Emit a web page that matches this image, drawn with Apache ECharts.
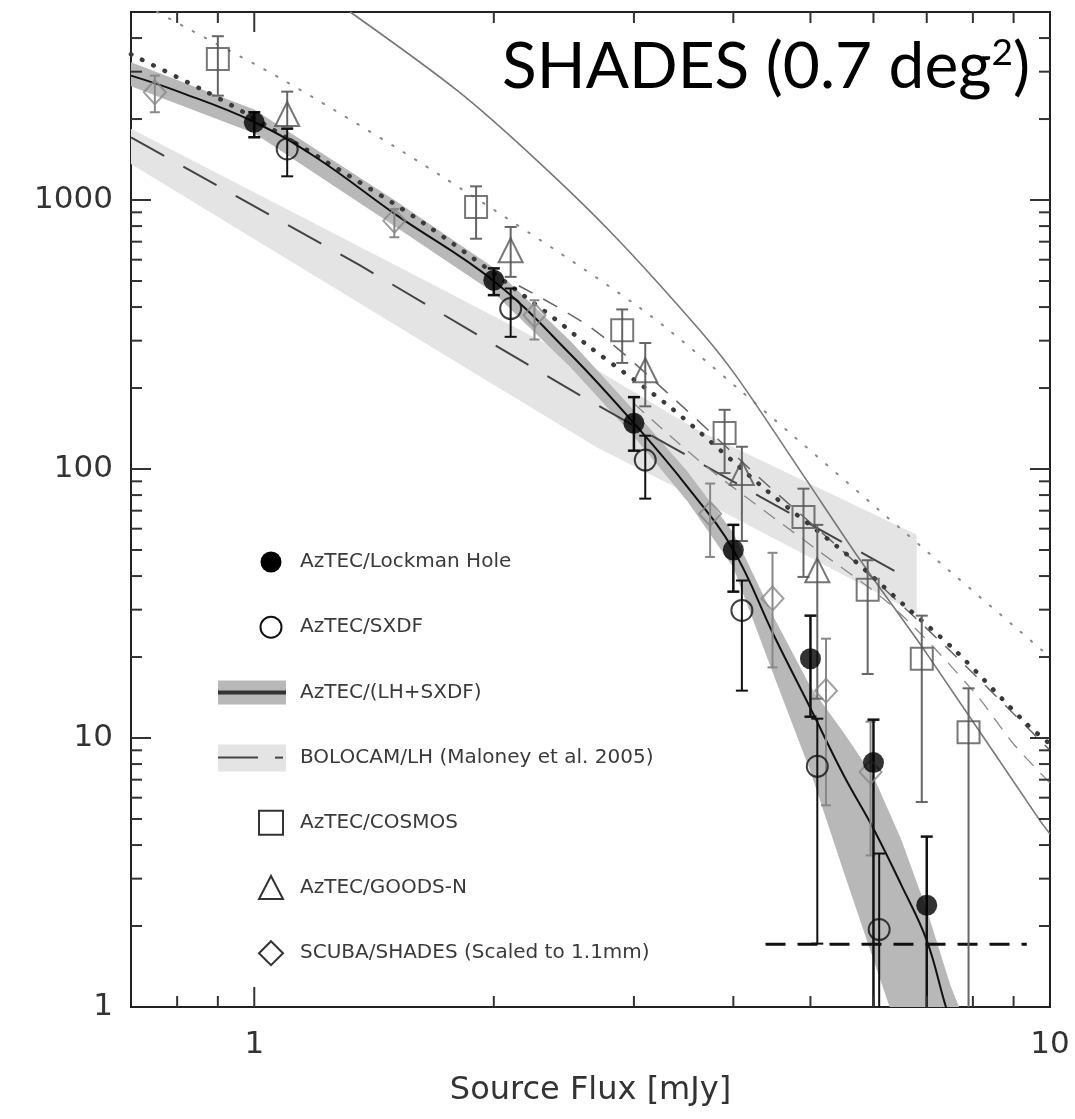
<!DOCTYPE html>
<html><head><meta charset="utf-8">
<script src="https://cdn.jsdelivr.net/npm/echarts@6/dist/echarts.min.js"></script>
<style>html,body{margin:0;padding:0;background:#fff}#c{width:1075px;height:1119px}</style>
</head><body><div id="c"></div><script>
// ---- axis ranges & ticks ----
const X_MIN = 0.7, X_MAX = 10, Y_MIN = 1, Y_MAX = 5000;
const xTickLabels = [1, 10];
const yTickLabels = [1, 10, 100, 1000];
const xMajorTicks = [1];
const xMinorTicks = [0.8, 0.9, 2, 3, 4, 5, 6, 7, 8, 9];
const yMajorTicks = [10, 100, 1000];
const yMinorTicks = [2,3,4,5,6,7,8,9,20,30,40,50,60,70,80,90,200,300,400,500,600,700,800,900,2000,3000,4000];

// ---- AzTEC/Lockman Hole ----
const lhX  = [1, 2, 3, 4, 5, 6, 7];
const lhY  = [1945, 503, 148, 50, 19.7, 8.1, 2.39];
const lhHi = [2120, 557, 185, 62, 28.5, 11.7, 4.3];
const lhLo = [1711, 443, 117, 35, 12.0, 0.5, 0.5];
// ---- AzTEC/SXDF ----
const sxX  = [1.1, 2.1, 3.1, 4.1, 5.1, 6.1];
const sxY  = [1548, 395, 108, 29.8, 7.85, 1.94];
const sxHi = [1838, 469, 133, 38.5, 11.8, 3.72];
const sxLo = [1225, 310, 77.6, 15.0, 1.72, 0.5];
// ---- AzTEC/COSMOS ----
const coX  = [0.9, 1.9, 2.9, 3.9, 4.9, 5.9, 6.9, 7.9];
const coY  = [3342, 942, 328, 136, 66.3, 35.6, 19.7, 10.5];
const coHi = [4064, 1124, 392, 166, 84.5, 45.8, 28.5, 15.3];
const coLo = [2444, 718, 248, 96.6, 39.7, 17.3, 5.78, 0.5];
// ---- AzTEC/GOODS-N ----
const gnX  = [1.1, 2.1, 3.1, 4.1, 5.1];
const gnY  = [2089, 650, 233, 96.6, 42];
const gnHi = [2529, 794, 294, 121, 62];
const gnLo = [1864, 518, 171, 54, 14];
// ---- SCUBA/SHADES ----
const scX  = [0.75, 1.5, 2.25, 3.74, 4.48, 5.23, 5.95];
const scY  = [2514, 838, 373, 68.2, 33.0, 15.0, 7.47];
const scHi = [2901, 926, 424, 88.3, 48.8, 23.4, 11.5];
const scLo = [2120, 727, 303, 47.1, 18.3, 5.62, 3.66];
// ---- AzTEC/(LH+SXDF) fit & band ----
const fitX = [0.7, 0.8, 1.0, 1.2, 1.5, 2.0, 2.5, 3.0, 3.5, 4.0, 4.5, 5.0, 5.5, 6.0, 6.5, 7.0, 7.4, 7.6];
const fitY = [2900, 2540, 1950, 1430, 890, 500, 266, 148, 86, 50, 24, 12.9, 7.3, 4.6, 2.85, 1.77, 1.0, 0.8];
const bandX  = [0.7, 1.0, 1.5, 2.0, 2.5, 3.0, 3.5, 4.0, 4.5, 5.0, 5.5, 6.0, 6.5, 7.0, 7.5, 7.8];
const bandHi = [3250, 2170, 1000, 560, 298, 165, 98, 58, 28, 15.5, 10.5, 7.2, 4.2, 2.3, 1.2, 0.9];
const bandLo = [2650, 1770, 800, 452, 238, 132, 76, 43, 17, 7.5, 3.2, 1.5, 0.75, 0.42, 0.25, 0.2];
// ---- BOLOCAM/LH ----
const bolX = [0.7, 1.36, 2.59, 4.32, 6.5];
const bolY = [1711, 570, 185, 79, 40.5];
const bolBandX  = [0.7, 1.7, 2.7, 3.6, 6.8];
const bolBandHi = [1840, 475, 233, 140, 57];
const bolBandLo = [1360, 275, 120, 78, 29];
// ---- model curves ----
const tdX = [0.7, 0.865, 0.97, 1.235, 1.65, 2.4, 2.64, 3.33, 4.41, 5.66, 6.57, 7.62, 9.34, 10];
const tdY = [3480, 2550, 2120, 1380, 803, 357, 284, 170, 83, 46, 31, 21, 11.3, 9.5];
const tnX = [0.755, 0.83, 1.1, 1.713, 3.06, 4.08, 7.14, 10];
const tnY = [5000, 4300, 2740, 1235, 395, 196, 47, 20];
const sgX = [1.32, 1.8, 2.265, 2.83, 3.63, 4.04, 4.86, 5.77, 7.0, 9.71, 10];
const sgY = [5000, 2550, 1405, 740, 328, 220, 98, 46, 20.6, 4.94, 4.4];
const d1X = [2.15, 2.67, 3.4, 4.4, 5.6, 7.5, 10];
const d1Y = [480, 330, 178, 88, 47, 21, 9.0];
const d2X = [3.0, 3.7, 5.04, 6.35, 8.0, 9.0, 10];
const d2Y = [175, 102, 51.3, 30.7, 15, 9.5, 6.8];
const limX = [4.39, 9.35];
const limY = [1.71, 1.71];

const legendLabels = ['AzTEC/Lockman Hole', 'AzTEC/SXDF', 'AzTEC/(LH+SXDF)',
  'BOLOCAM/LH (Maloney et al. 2005)', 'AzTEC/COSMOS', 'AzTEC/GOODS-N', 'SCUBA/SHADES (Scaled to 1.1mm)'];

const zip = (a, b) => a.map((v, i) => [v, b[i]]);
const isTick = (list, v) => list.find(t => Math.abs(t - v) / t < 1e-6);

function errSeries(x, lo, hi, color, width, cap, z) {
  return {
    type: 'custom', clip: true, z: z,
    data: x.map((v, i) => [v, lo[i], hi[i]]),
    encode: { x: 0, y: [1, 2] },
    renderItem: (params, api) => {
      const xv = api.value(0);
      const pL = api.coord([xv, api.value(1)]);
      const pH = api.coord([xv, api.value(2)]);
      const st = { stroke: color, lineWidth: width };
      return { type: 'group', children: [
        { type: 'line', shape: { x1: pL[0], y1: pL[1], x2: pH[0], y2: pH[1] }, style: st },
        { type: 'line', shape: { x1: pH[0] - cap, y1: pH[1], x2: pH[0] + cap, y2: pH[1] }, style: st },
        { type: 'line', shape: { x1: pL[0] - cap, y1: pL[1], x2: pL[0] + cap, y2: pL[1] }, style: st }
      ]};
    }
  };
}
function bandSeries(bx, hi, lo, fill, z) {
  return {
    type: 'custom', clip: true, z: z, silent: true,
    data: [[bx[0], hi[0]]],
    renderItem: (params, api) => {
      const top = bx.map((x, i) => api.coord([x, hi[i]]));
      const bot = bx.map((x, i) => api.coord([x, lo[i]])).reverse();
      return { type: 'polygon', shape: { points: top.concat(bot) }, style: { fill: fill } };
    }
  };
}
function lineSeries(x, y, color, width, type, z, smooth, cap) {
  return { type: 'line', data: zip(x, y), showSymbol: false, symbol: 'none', clip: true, z: z,
    smooth: smooth, silent: true,
    lineStyle: { color: color, width: width, type: type, cap: cap || 'butt' } };
}
function tickSeriesX() {
  const data = xMajorTicks.map(v => [v, Y_MIN, 20]).concat(xMinorTicks.map(v => [v, Y_MIN, 11]));
  return { type: 'custom', z: 10, silent: true, data: data,
    renderItem: (params, api) => {
      const v = api.value(0), len = api.value(2);
      const b = api.coord([v, Y_MIN]), t = api.coord([v, Y_MAX]);
      const st = { stroke: '#333', lineWidth: 2 };
      return { type: 'group', children: [
        { type: 'line', shape: { x1: b[0], y1: b[1], x2: b[0], y2: b[1] - len }, style: st },
        { type: 'line', shape: { x1: t[0], y1: t[1], x2: t[0], y2: t[1] + len }, style: st }]};
    } };
}
function tickSeriesY() {
  const data = yMajorTicks.map(v => [X_MIN, v, 20]).concat(yMinorTicks.map(v => [X_MIN, v, 11]));
  return { type: 'custom', z: 10, silent: true, data: data,
    renderItem: (params, api) => {
      const v = api.value(1), len = api.value(2);
      const l = api.coord([X_MIN, v]), r = api.coord([X_MAX, v]);
      const st = { stroke: '#333', lineWidth: 2 };
      return { type: 'group', children: [
        { type: 'line', shape: { x1: l[0], y1: l[1], x2: l[0] + len, y2: l[1] }, style: st },
        { type: 'line', shape: { x1: r[0], y1: r[1], x2: r[0] - len, y2: r[1] }, style: st }]};
    } };
}

// ---- legend (drawn as graphic) ----
const LX = 271, TX = 300, LY0 = 562, LDY = 65.2;
const legFont = '20px "DejaVu Sans"';
const legendGraphic = [];
const ly = i => LY0 + i * LDY;
legendGraphic.push({ type: 'circle', shape: { cx: LX, cy: ly(0), r: 10.5 }, style: { fill: '#000' } });
legendGraphic.push({ type: 'circle', shape: { cx: LX, cy: ly(1), r: 10.5 }, style: { fill: 'none', stroke: '#111', lineWidth: 2 } });
legendGraphic.push({ type: 'rect', shape: { x: 218, y: ly(2) - 12, width: 68, height: 24 }, style: { fill: '#b8b8b8' } });
legendGraphic.push({ type: 'line', shape: { x1: 218, y1: ly(2), x2: 286, y2: ly(2) }, style: { stroke: '#333', lineWidth: 4 } });
legendGraphic.push({ type: 'rect', shape: { x: 218, y: ly(3) - 13, width: 68, height: 27 }, style: { fill: '#e4e4e4' } });
legendGraphic.push({ type: 'line', shape: { x1: 218, y1: ly(3), x2: 258, y2: ly(3) }, style: { stroke: '#444', lineWidth: 2 } });
legendGraphic.push({ type: 'line', shape: { x1: 275, y1: ly(3), x2: 283, y2: ly(3) }, style: { stroke: '#444', lineWidth: 2 } });
legendGraphic.push({ type: 'rect', shape: { x: LX - 12, y: ly(4) - 12, width: 24, height: 24 }, style: { fill: 'none', stroke: '#333', lineWidth: 2 } });
legendGraphic.push({ type: 'polygon', shape: { points: [[LX - 12, ly(5) + 11], [LX + 12, ly(5) + 11], [LX, ly(5) - 12]] }, style: { fill: 'none', stroke: '#333', lineWidth: 2 } });
legendGraphic.push({ type: 'polygon', shape: { points: [[LX, ly(6) - 12], [LX + 12, ly(6)], [LX, ly(6) + 12], [LX - 12, ly(6)]] }, style: { fill: 'none', stroke: '#333', lineWidth: 2 } });
legendLabels.forEach((t, i) => legendGraphic.push({ type: 'text', x: TX, y: ly(i),
  style: { text: t, font: legFont, fill: '#3a3a3a', textVerticalAlign: 'middle', verticalAlign: 'middle' } }));

const chart = echarts.init(document.getElementById('c'), null, { renderer: 'canvas' });
chart.setOption({
  animation: false,
  backgroundColor: '#fff',
  title: {
    text: '{a|SHADES (0.7 deg}{b|2}{a|)}', right: 40, top: 30,
    textStyle: { fontWeight: 'normal', rich: {
      a: { fontFamily: 'Lato', fontSize: 64, fontWeight: 'normal', color: '#000' },
      b: { fontFamily: 'Lato', fontSize: 37, fontWeight: 'normal', color: '#000', verticalAlign: 'top' } } }
  },
  grid: { left: 131, right: 25, top: 12, bottom: 112, show: true, borderColor: '#222', borderWidth: 2,
    containLabel: false, outerBoundsMode: 'none' },
  xAxis: { type: 'log', logBase: 10, min: X_MIN, max: X_MAX,
    axisLine: { show: false }, axisTick: { show: false }, splitLine: { show: false },
    axisLabel: { margin: 22, fontSize: 31, color: '#333', fontFamily: 'DejaVu Sans', showMinLabel: false,
      formatter: v => { const t = isTick(xTickLabels, v); return t ? String(t) : ''; } },
    name: 'Source Flux [mJy]', nameLocation: 'middle', nameGap: 68,
    nameTextStyle: { fontSize: 32, fontFamily: 'DejaVu Sans', color: '#333' } },
  yAxis: { type: 'log', logBase: 10, min: Y_MIN, max: Y_MAX,
    axisLine: { show: false }, axisTick: { show: false }, splitLine: { show: false },
    axisLabel: { margin: 18, fontSize: 31, color: '#333', fontFamily: 'DejaVu Sans',
      formatter: v => { const t = isTick(yTickLabels, v); return t ? String(t) : ''; } } },
  graphic: legendGraphic,
  series: [
    bandSeries(bolBandX, bolBandHi, bolBandLo, '#e4e4e4', 1),
    bandSeries(bandX, bandHi, bandLo, '#b8b8b8', 2),
    lineSeries(bolX, bolY, '#444', 2, [38, 22], 3, false),
    lineSeries(tnX, tnY, '#888', 2, [1.5, 12], 3, 0.3, 'round'),
    lineSeries(sgX, sgY, '#777', 1.6, 'solid', 3, 0.3),
    lineSeries(d1X, d1Y, '#666', 1.5, [16, 12], 3, 0.3),
    lineSeries(d2X, d2Y, '#888', 1.3, [14, 10], 3, 0.3),
    lineSeries(tdX, tdY, '#3a3a3a', 4.5, [0.5, 12], 3, 0.3, 'round'),
    lineSeries(fitX, fitY, '#111', 2, 'solid', 4, 0.4),
    lineSeries(limX, limY, '#111', 3, [20, 12], 4, false),
    errSeries(scX, scLo, scHi, '#888', 2, 5, 5),
    errSeries(coX, coLo, coHi, '#666', 2, 6, 5),
    errSeries(gnX, gnLo, gnHi, '#666', 2, 6, 5),
    errSeries(sxX, sxLo, sxHi, '#111', 2, 6, 6),
    errSeries(lhX, lhLo, lhHi, '#111', 2.5, 6, 6),
    { type: 'scatter', z: 7, data: zip(scX, scY), symbol: 'diamond', symbolSize: [22, 24], clip: true,
      itemStyle: { color: 'rgba(0,0,0,0)', borderColor: '#888', borderWidth: 2 } },
    { type: 'scatter', z: 7, data: zip(coX, coY), symbol: 'rect', symbolSize: 22, clip: true,
      itemStyle: { color: 'rgba(0,0,0,0)', borderColor: '#555', borderWidth: 2 } },
    { type: 'scatter', z: 7, data: zip(gnX, gnY), symbol: 'triangle', symbolSize: [24, 24], clip: true,
      itemStyle: { color: 'rgba(0,0,0,0)', borderColor: '#555', borderWidth: 2 } },
    { type: 'scatter', z: 8, data: zip(sxX, sxY), symbol: 'circle', symbolSize: 21, clip: true,
      itemStyle: { color: 'rgba(0,0,0,0)', borderColor: '#111', borderWidth: 2 } },
    { type: 'scatter', z: 8, data: zip(lhX, lhY), symbol: 'circle', symbolSize: 21, clip: true,
      itemStyle: { color: '#000' } },
    tickSeriesX(),
    tickSeriesY()
  ]
});
</script></body></html>
